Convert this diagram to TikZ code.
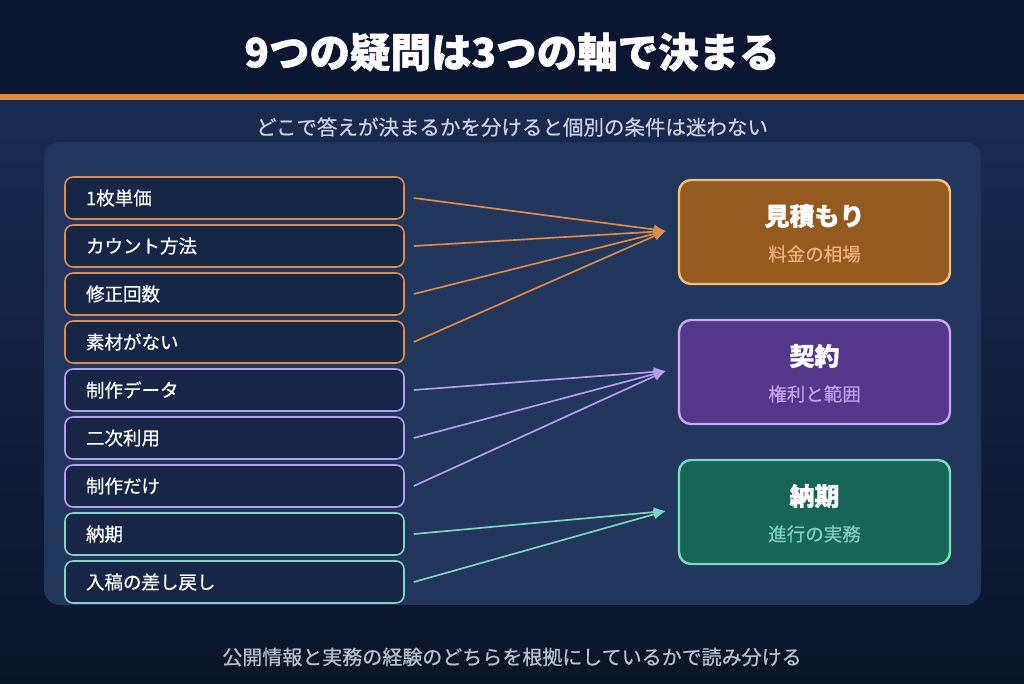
\documentclass[tikz,border=0pt]{standalone}
\usepackage{fontspec}
\setmainfont{Noto Sans CJK JP}
\newfontfamily\medfont[FakeBold=0.6]{Noto Sans CJK JP}
\newfontfamily\heavyfont[BoldFeatures={FakeBold=1.2}]{Noto Sans CJK JP}
\usetikzlibrary{arrows.meta}
\definecolor{hdr}{HTML}{0B1630}
\definecolor{bodytop}{HTML}{192B50}
\definecolor{bodybot}{HTML}{0A1429}
\definecolor{accent}{HTML}{E08B3E}
\definecolor{panel}{HTML}{22355A}
\definecolor{lfill}{HTML}{172646}
\definecolor{cOr}{HTML}{DE8D48}
\definecolor{cPu}{HTML}{B89EF2}
\definecolor{cTe}{HTML}{7DD6C3}
\definecolor{fOr}{HTML}{955A1F}
\definecolor{bOr}{HTML}{F4C084}
\definecolor{sOr}{HTML}{F0B278}
\definecolor{fPu}{HTML}{54378A}
\definecolor{bPu}{HTML}{C6A8F6}
\definecolor{sPu}{HTML}{C2A4F0}
\definecolor{fTe}{HTML}{166557}
\definecolor{bTe}{HTML}{7DD8C5}
\definecolor{sTe}{HTML}{7FD3C0}
\definecolor{subtxt}{HTML}{C6D2EA}
\definecolor{foottxt}{HTML}{B6C1D6}
\tikzset{
  lbox/.style={draw, line width=1.6pt, fill=lfill, rounded corners=8pt,
    minimum height=42pt, text width=297pt, inner xsep=21pt, align=left,
    text=white, font=\medfont\fontsize{18.5}{20}\selectfont},
  rbox/.style={line width=2.4pt, rounded corners=12pt, minimum width=271pt, minimum height=104pt},
  rtitle/.style={text=white, font=\heavyfont\fontsize{25}{28}\selectfont\bfseries},
  rsub/.style={font=\medfont\fontsize{18.5}{20}\selectfont},
  conn/.style={line width=1.7pt, -{Latex[length=12pt,width=10pt]}}
}
\begin{document}
\begin{tikzpicture}[x=1pt,y=-1pt]
\useasboundingbox (0,0) rectangle (1024,683);
\fill[hdr] (0,0) rectangle (1024,95);
\shade[top color=bodytop, bottom color=bodybot] (0,100) rectangle (1024,683);
\fill[accent] (0,94) rectangle (1024,100);
\node[text=white, font=\heavyfont\fontsize{40.5}{44}\selectfont\bfseries] (title) at (512,52) {9つの疑問は3つの軸で決まる};
\node[text=subtxt, font=\medfont\fontsize{20.5}{22}\selectfont] (subtitle) at (512,127) {どこで答えが決まるかを分けると個別の条件は迷わない};
\fill[panel, rounded corners=16pt] (44,142) rectangle (981,605);
% left boxes
\node[lbox, draw=cOr] (l1) at (234.5,198) {1枚単価};
\node[lbox, draw=cOr] (l2) at (234.5,246) {カウント方法};
\node[lbox, draw=cOr] (l3) at (234.5,294) {修正回数};
\node[lbox, draw=cOr] (l4) at (234.5,342) {素材がない};
\node[lbox, draw=cPu] (l5) at (234.5,390) {制作データ};
\node[lbox, draw=cPu] (l6) at (234.5,438) {二次利用};
\node[lbox, draw=cPu] (l7) at (234.5,486) {制作だけ};
\node[lbox, draw=cTe] (l8) at (234.5,534) {納期};
\node[lbox, draw=cTe] (l9) at (234.5,582) {入稿の差し戻し};
% right boxes
\node[rbox, draw=bOr, fill=fOr] (r1) at (814.5,232) {};
\node[rtitle] (r1t) at (814.5,216) {見積もり};
\node[rsub, text=sOr] (r1s) at (814.5,254) {料金の相場};
\node[rbox, draw=bPu, fill=fPu] (r2) at (814.5,372) {};
\node[rtitle] (r2t) at (814.5,356) {契約};
\node[rsub, text=sPu] (r2s) at (814.5,394) {権利と範囲};
\node[rbox, draw=bTe, fill=fTe] (r3) at (814.5,512) {};
\node[rtitle] (r3t) at (814.5,496) {納期};
\node[rsub, text=sTe] (r3s) at (814.5,534) {進行の実務};
% connectors
\coordinate (t1) at ([xshift=-12pt,yshift=1pt]r1.west);
\coordinate (t2) at ([xshift=-12pt,yshift=1pt]r2.west);
\coordinate (t3) at ([xshift=-12pt,yshift=1pt]r3.west);
\foreach \i in {1,2,3,4}{\draw[conn, cOr] ([xshift=9pt]l\i.east) -- (t1);}
\foreach \i in {5,6,7}{\draw[conn, cPu] ([xshift=9pt]l\i.east) -- (t2);}
\foreach \i in {8,9}{\draw[conn, cTe] ([xshift=9pt]l\i.east) -- (t3);}
\node[text=foottxt, font=\medfont\fontsize{20}{22}\selectfont] (footer) at (512,657) {公開情報と実務の経験のどちらを根拠にしているかで読み分ける};
\end{tikzpicture}
\end{document}
